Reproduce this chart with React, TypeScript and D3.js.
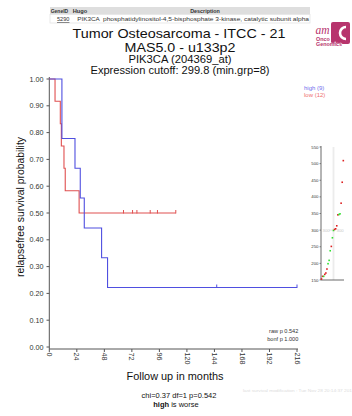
import React from 'react';
import * as d3 from 'd3';

// Kaplan-Meier step points (months, survival)
const highTimes = [0, 11, 22.4, 27, 30.5, 45.6, 50.8, 216];
const highSurv = [1, 0.778, 0.667, 0.556, 0.444, 0.333, 0.222, 0.222];
const highCensor = [146, 216];

const lowTimes = [0, 5, 9.6, 10.5, 12.8, 13.9, 26, 110.3];
const lowSurv = [1, 0.917, 0.833, 0.75, 0.667, 0.583, 0.5, 0.5];
const lowCensor = [64.7, 72.6, 76.4, 88, 94.3, 110.3];

const xTicks = [0, 24, 48, 72, 96, 120, 144, 168, 192, 216];
const yTicks = [0, 0.1, 0.2, 0.3, 0.4, 0.5, 0.6, 0.7, 0.8, 0.9, 1.0];

// inset: expression values sorted, event (true = red) / censored (green)
const exprValues = [153, 161, 161, 167, 171, 183, 199, 209, 238, 251, 277, 299, 302, 304, 313, 346, 347, 349, 381, 444, 509];
const exprEvent = [true, true, false, true, true, true, false, false, false, true, false, false, true, true, true, true, false, false, true, true, true];
const insetTicks = [150, 200, 250, 300, 350, 400, 450, 500, 550];

const BLUE = '#4f4fe0';
const RED = '#e05050';
const FONT = '"Liberation Sans", Arial, sans-serif';
const MAGENTA = '#b7346d';

export default function App() {
  const x = d3.scaleLinear().domain([0, 216]).range([49.3, 297]);
  const y = d3.scaleLinear().domain([0, 1]).range([347, 79]);

  const line = d3.line<[number, number]>()
    .x(d => x(d[0]))
    .y(d => y(d[1]))
    .curve(d3.curveStepAfter);

  const highPts = highTimes.map((t, i) => [t, highSurv[i]] as [number, number]);
  const lowPts = lowTimes.map((t, i) => [t, lowSurv[i]] as [number, number]);

  const iy = d3.scaleLinear().domain([150, 550]).range([280, 147]);
  const ix = d3.scalePoint<number>().domain(exprValues.map((_, i) => i)).range([321.5, 343.3]);

  return (
    <svg width={352} height={416} style={{ position: 'absolute', left: 0, top: 0, background: '#fff' }}
      fontFamily={FONT}>
      {/* gene table */}
      <rect x={50} y={7} width={260} height={7.5} fill="#dedede" />
      <rect x={50} y={14.5} width={260} height={8.5} fill="#fff" stroke="#e4e4e4" strokeWidth={0.8} />
      <g fontSize={5.4} fontWeight="bold" fill="#333">
        <text x={50.7} y={12.6} textLength={17.5} lengthAdjust="spacingAndGlyphs">GeneID</text>
        <text x={72.7} y={12.6} textLength={14.5} lengthAdjust="spacingAndGlyphs">Hugo</text>
        <text x={205} y={12.6} textAnchor="middle">Description</text>
      </g>
      <g fontSize={5.6} fill="#333">
        <text x={57} y={21} textDecoration="underline">5290</text>
        <text x={77.3} y={21} textLength={22.5} lengthAdjust="spacingAndGlyphs">PIK3CA</text>
        <text x={103} y={21} textLength={206} lengthAdjust="spacingAndGlyphs">phosphatidylinositol-4,5-bisphosphate 3-kinase, catalytic subunit alpha</text>
      </g>

      {/* logo */}
      <rect x={331} y={22} width={19} height={22} rx={2} fill={MAGENTA} />
      <path d="M 346 27 A 6 6 0 1 0 346 39" fill="none" stroke="#fff" strokeWidth={2.6} />
      <text x={315.5} y={34} fontFamily='"Liberation Serif", serif' fontStyle="italic" fontSize={11.5} fill={MAGENTA}>am</text>
      <g fontSize={5.4} fontWeight="bold" fill={MAGENTA} stroke="#fff" strokeWidth={0.5} style={{ paintOrder: 'stroke' }}>
        <text x={316} y={40.8}>Onco</text>
        <text x={316} y={45.6}>Genomics</text>
      </g>

      {/* titles */}
      <g fill="#111" textAnchor="middle">
        <text x={179} y={37.5} fontSize={13} textLength={213} lengthAdjust="spacingAndGlyphs">Tumor Osteosarcoma  - ITCC - 21</text>
        <text x={180} y={51.5} fontSize={13} textLength={111} lengthAdjust="spacingAndGlyphs">MAS5.0 - u133p2</text>
        <text x={180} y={63} fontSize={10.5} textLength={103} lengthAdjust="spacingAndGlyphs">PIK3CA (204369_at)</text>
        <text x={180} y={74} fontSize={10.5} textLength={179} lengthAdjust="spacingAndGlyphs">Expression cutoff: 299.8 (min.grp=8)</text>
      </g>

      {/* axes */}
      <line x1={49.3} x2={49.3} y1={77} y2={349} stroke="#555" strokeWidth={1} />
      <line x1={49.3} x2={298} y1={349} y2={349} stroke="#555" strokeWidth={1} />
      {yTicks.map(t => (
        <g key={t}>
          <line x1={46.5} x2={49.3} y1={y(t)} y2={y(t)} stroke="#555" />
          <text x={43.5} y={y(t) + 2.5} fontSize={7.2} textAnchor="end" fill="#333">{t.toFixed(2)}</text>
        </g>
      ))}
      {xTicks.map(t => (
        <g key={t}>
          <line x1={x(t)} x2={x(t)} y1={349} y2={352} stroke="#555" />
          <text transform={`translate(${x(t) - 2.4},${352.5}) rotate(90)`} fontSize={7.2} fill="#333">{t}</text>
        </g>
      ))}
      <text transform="translate(23.5,207) rotate(-90)" fontSize={10.5} textAnchor="middle" fill="#111"
        textLength={140} lengthAdjust="spacingAndGlyphs">relapsefree survival probability</text>
      <text x={175} y={380} fontSize={11} textAnchor="middle" fill="#111" textLength={97} lengthAdjust="spacingAndGlyphs">Follow up in months</text>

      {/* curves */}
      <path d={line(lowPts) || ''} fill="none" stroke={RED} strokeWidth={1.1} />
      <path d={line(highPts) || ''} fill="none" stroke={BLUE} strokeWidth={1.1} />
      {lowCensor.map((t, i) => (
        <line key={'lc' + i} x1={x(t)} x2={x(t)} y1={y(0.5) - 3} y2={y(0.5) + 0.5} stroke={RED} strokeWidth={1} />
      ))}
      {highCensor.map((t, i) => (
        <line key={'hc' + i} x1={x(t)} x2={x(t)} y1={y(0.222) - 3} y2={y(0.222) + 0.5} stroke={BLUE} strokeWidth={1} />
      ))}

      {/* legend */}
      <text x={304} y={90.3} fontSize={6} fill="#7070ee">high (9)</text>
      <text x={304} y={96.7} fontSize={6} fill="#ee7070">low (12)</text>

      {/* inset expression plot */}
      <rect x={332.6} y={147} width={1.8} height={133} fill="#ececec" />
      <line x1={321} x2={321} y1={146} y2={280} stroke="#444" strokeWidth={0.8} />
      <line x1={321} x2={344} y1={280} y2={280} stroke="#444" strokeWidth={0.8} />
      {insetTicks.map(t => (
        <g key={t}>
          <line x1={319.5} x2={321} y1={iy(t)} y2={iy(t)} stroke="#444" strokeWidth={0.6} />
          <text x={318.5} y={iy(t) + 1.5} fontSize={4.3} textAnchor="end" fill="#333">{t}</text>
        </g>
      ))}
      <g fontSize={4.3} fill="#c8c8c8">
        <text x={322.5} y={iy(300) + 1.5}>300</text>
        <line x1={329} x2={333} y1={iy(300)} y2={iy(300)} stroke="#c8c8c8" strokeWidth={0.5} />
        <text x={336.5} y={iy(300) + 1.5}>300</text>
      </g>
      {exprValues.map((v, i) => (
        <rect key={'p' + i} x={(ix(i) || 0) - 0.8} y={iy(v) - 0.8} width={1.6} height={1.6}
          fill={exprEvent[i] ? '#dd2020' : '#30e030'} />
      ))}

      {/* stats */}
      <g fontSize={5.6} fill="#333" textAnchor="end">
        <text x={298.3} y={333}>raw p 0.542</text>
        <text x={298.3} y={340.7}>bonf p 1.000</text>
      </g>
      <text x={243} y={391.5} fontSize={4} fill="#dcdcdc" textLength={109} lengthAdjust="spacingAndGlyphs">last survival modification : Tue Nov 28 20:14:37 201</text>
      <text x={179} y={398} fontSize={7.5} textAnchor="middle" fill="#111">chi=0.37 df=1 p=0.542</text>
      <text x={176} y={406.5} fontSize={7.5} textAnchor="middle" fill="#111">
        <tspan fontWeight="bold">high</tspan> is worse
      </text>
    </svg>
  );
}
